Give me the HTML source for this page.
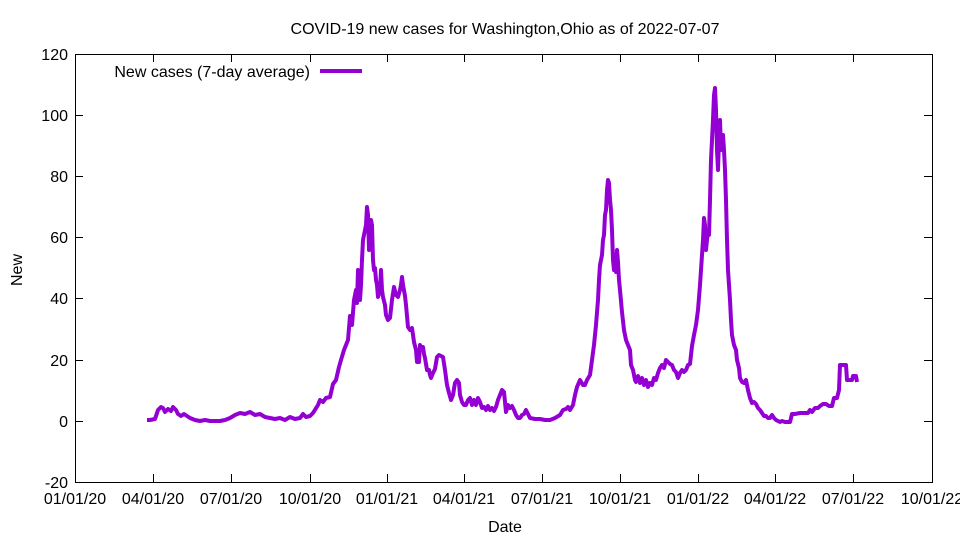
<!DOCTYPE html>
<html><head><meta charset="utf-8"><style>body{margin:0;background:#fff}svg{display:block}text{font-family:"Liberation Sans",Arial,sans-serif;font-size:16px;fill:#000}</style></head><body>
<svg width="960" height="540" xmlns="http://www.w3.org/2000/svg">
<rect width="960" height="540" fill="#fff"/>
<text x="505" y="34" text-anchor="middle">COVID-19 new cases for Washington,Ohio as of 2022-07-07</text>
<g stroke="#000" stroke-width="1" fill="none">
<rect x="75.5" y="54.5" width="857" height="428"/>
<path d="M75 54.5h8M932 54.5h-8M75 115.5h8M932 115.5h-8M75 176.5h8M932 176.5h-8M75 237.5h8M932 237.5h-8M75 298.5h8M932 298.5h-8M75 360.5h8M932 360.5h-8M75 421.5h8M932 421.5h-8M75 482.5h8M932 482.5h-8"/>
<path d="M75.5 482v-8M75.5 54v8M153.5 482v-8M153.5 54v8M231.5 482v-8M231.5 54v8M310.5 482v-8M310.5 54v8M387.5 482v-8M387.5 54v8M464.5 482v-8M464.5 54v8M542.5 482v-8M542.5 54v8M620.5 482v-8M620.5 54v8M698.5 482v-8M698.5 54v8M775.5 482v-8M775.5 54v8M853.5 482v-8M853.5 54v8M932.5 482v-8M932.5 54v8"/>
</g>
<g text-anchor="end">
<text x="68" y="60">120</text><text x="68" y="121">100</text><text x="68" y="182">80</text><text x="68" y="243">60</text><text x="68" y="304">40</text><text x="68" y="366">20</text><text x="68" y="427">0</text><text x="68" y="488">-20</text>
</g>
<g text-anchor="middle">
<text x="75" y="504">01/01/20</text><text x="153" y="504">04/01/20</text><text x="231" y="504">07/01/20</text><text x="310" y="504">10/01/20</text><text x="387" y="504">01/01/21</text><text x="464" y="504">04/01/21</text><text x="542" y="504">07/01/21</text><text x="620" y="504">10/01/21</text><text x="698" y="504">01/01/22</text><text x="775" y="504">04/01/22</text><text x="853" y="504">07/01/22</text><text x="932" y="504">10/01/22</text>
<text x="505" y="532">Date</text>
<text x="0" y="0" transform="translate(22,270) rotate(-90)">New</text>
</g>
<text x="310" y="77" text-anchor="end">New cases (7-day average)</text>
<line x1="320" y1="71" x2="362" y2="71" stroke="#9400d3" stroke-width="4"/>
<polyline fill="none" stroke="#9400d3" stroke-width="4" stroke-linejoin="round" points="147,420 150,420 155,419 158,410 161,407 163,408 165,412 168,409 171,411 173,407 176,410 178,414 181,416 184,414 187,416 190,418 195,420 200,421 205,420 210,421 215,421 220,421 225,420 230,418 235,415 240,413 245,414 250,412 255,415 260,414 265,417 270,418 275,419 280,418 285,420 290,417 295,419 300,418 303,414 306,417 310,416 313,413 318,405 320,400 323,402 326,398 330,397 333,384 336,380 339,367 341,360 344,350 346,345 348,340 350,316 352,325 354,300 356,290 357,303 358,270 359,295 360,300 361,285 362,260 363,240 365,230 366,225 367,207 368,215 369,250 370,235 371,220 372,225 373,260 374,270 375,268 376,280 377,285 378,297 380,290 381,270 382,290 383,297 385,305 386,315 388,320 390,318 392,300 394,287 396,295 398,297 400,290 401,285 402,277 403,285 405,296 406,305 408,327 410,330 412,328 413,335 414,342 416,350 417,362 419,362 420,345 421,350 423,347 424,354 425,358 427,370 429,370 430,375 431,378 433,373 435,369 437,357 439,355 443,357 445,370 447,385 449,393 451,400 453,395 455,383 457,380 459,383 460,395 462,402 464,405 466,405 468,400 470,398 472,405 474,400 476,405 478,398 480,402 482,408 484,407 486,410 488,406 490,410 492,408 494,411 496,407 498,400 500,395 502,390 504,392 506,412 508,405 510,408 512,406 514,410 516,415 518,418 520,418 522,415 524,414 526,410 528,414 530,418 535,419 540,419 545,420 550,420 555,418 560,415 563,410 566,409 568,407 570,410 573,405 575,395 577,387 580,380 583,385 585,385 587,380 590,375 592,360 594,345 596,325 598,300 599,280 600,265 602,255 603,240 604,235 605,215 606,210 607,190 608,180 609,183 610,200 611,210 612,230 613,260 614,270 615,265 616,272 617,250 618,262 619,280 620,290 622,312 624,330 626,340 628,345 630,350 631,365 633,370 635,380 636,382 638,376 640,383 642,378 644,385 646,380 648,387 650,383 652,385 654,378 656,380 658,373 660,368 662,365 664,368 666,360 668,362 670,364 672,365 674,370 676,372 678,378 680,373 682,370 684,372 686,370 688,365 690,364 692,346 694,335 696,325 698,310 700,285 701,270 703,240 704,218 705,225 706,250 707,240 708,230 709,235 710,200 711,160 712,140 713,120 714,95 715,88 716,110 717,150 718,170 719,140 720,120 721,150 722,145 723,135 724,150 725,170 726,200 727,240 728,270 730,300 731,320 732,335 734,345 736,350 737,360 739,368 740,378 742,382 744,383 746,380 748,390 750,398 752,403 754,402 756,404 758,408 760,410 762,413 764,416 766,416 768,418 770,418 772,415 774,418 776,420 778,421 780,422 782,421 785,422 790,422 792,414 795,414 800,413 805,413 808,413 810,410 812,412 815,408 818,408 820,406 823,404 826,404 829,406 832,406 834,398 837,398 839,390 840,365 842,365 846,365 847,380 849,380 852,380 853,376 856,376 857,382"/>
</svg>
</body></html>
